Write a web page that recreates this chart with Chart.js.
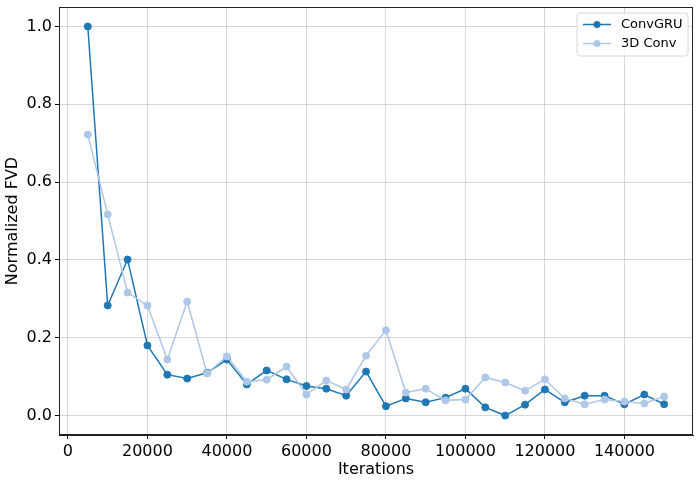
<!DOCTYPE html>
<html>
<head>
<meta charset="utf-8">
<script src="https://cdn.jsdelivr.net/npm/chart.js@4.4.1/dist/chart.umd.min.js"></script>
<style>
  html, body { margin: 0; padding: 0; background: #fff; }
</style>
</head>
<body>
<canvas id="fvdChart" width="699" height="483"></canvas>
<script>
// iterations on the x axis
var iterations = [5000, 10000, 15000, 20000, 25000, 30000, 35000, 40000, 45000, 50000,
  55000, 60000, 65000, 70000, 75000, 80000, 85000, 90000, 95000, 100000,
  105000, 110000, 115000, 120000, 125000, 130000, 135000, 140000, 145000, 150000];

var convGruFvd = [1.0, 0.283, 0.401, 0.18, 0.105, 0.095, 0.11, 0.144, 0.08, 0.116,
  0.093, 0.076, 0.069, 0.051, 0.113, 0.024, 0.044, 0.034, 0.046, 0.069,
  0.021, 0.0, 0.028, 0.067, 0.034, 0.051, 0.051, 0.029, 0.054, 0.029];

var conv3dFvd = [0.722, 0.517, 0.316, 0.283, 0.144, 0.293, 0.108, 0.152, 0.087, 0.092,
  0.126, 0.054, 0.09, 0.067, 0.154, 0.219, 0.059, 0.069, 0.039, 0.041,
  0.098, 0.085, 0.064, 0.093, 0.044, 0.029, 0.041, 0.036, 0.031, 0.049];

var xTicks = [0, 20000, 40000, 60000, 80000, 100000, 120000, 140000];
var yTicks = [0.0, 0.2, 0.4, 0.6, 0.8, 1.0];

var seriesNames = ["ConvGRU", "3D Conv"];
var seriesColors = ["#1f77b4", "#aec7e8"];

function toPoints(values) {
  return values.map(function (v, i) { return { x: iterations[i], y: v }; });
}

var fontFamily = "'DejaVu Sans', sans-serif";
var gridColor = "rgba(176,176,176,0.5)";

// black frame round the plot area, like matplotlib spines
var frame = {
  id: "frame",
  afterDatasetsDraw: function (chart) {
    var a = chart.chartArea;
    var ctx = chart.ctx;
    ctx.save();
    ctx.strokeStyle = "#222";
    ctx.lineWidth = 1;
    ctx.strokeRect(Math.round(a.left) + 0.5, Math.round(a.top) + 0.5,
      Math.round(a.right - a.left) - 1, Math.round(a.bottom - a.top) - 1);
    ctx.restore();
  }
};

// legend box in the top right corner, inside the axes
var legendBox = {
  id: "legendBox",
  afterDraw: function (chart) {
    var ctx = chart.ctx;
    var x = 577, y = 13, w = 111, h = 43, r = 3;
    ctx.save();
    ctx.beginPath();
    ctx.moveTo(x + r, y);
    ctx.arcTo(x + w, y, x + w, y + h, r);
    ctx.arcTo(x + w, y + h, x, y + h, r);
    ctx.arcTo(x, y + h, x, y, r);
    ctx.arcTo(x, y, x + w, y, r);
    ctx.closePath();
    ctx.fillStyle = "rgba(255,255,255,0.8)";
    ctx.fill();
    ctx.strokeStyle = "#d6d6d6";
    ctx.lineWidth = 1;
    ctx.stroke();

    chart.data.datasets.forEach(function (ds, i) {
      var ly = y + 11.5 + i * 19;
      ctx.strokeStyle = ds.borderColor;
      ctx.lineWidth = 1.5;
      ctx.beginPath();
      ctx.moveTo(x + 6, ly);
      ctx.lineTo(x + 34, ly);
      ctx.stroke();
      ctx.fillStyle = ds.borderColor;
      ctx.beginPath();
      ctx.arc(x + 20, ly, 3.5, 0, Math.PI * 2);
      ctx.fill();
      ctx.fillStyle = "#000";
      ctx.font = "13px " + fontFamily;
      ctx.textBaseline = "middle";
      ctx.fillText(ds.label, x + 44, ly + 0.5);
    });
    ctx.restore();
  }
};

new Chart("fvdChart", {
  type: "line",
  data: {
    datasets: [
      {
        label: seriesNames[0],
        data: toPoints(convGruFvd),
        borderColor: seriesColors[0],
        backgroundColor: seriesColors[0],
        pointBackgroundColor: seriesColors[0],
        borderWidth: 1.5,
        pointRadius: 3.5,
        pointBorderWidth: 1,
        pointHoverRadius: 3.5,
        order: 2,
      },
      {
        label: seriesNames[1],
        data: toPoints(conv3dFvd),
        borderColor: seriesColors[1],
        backgroundColor: seriesColors[1],
        pointBackgroundColor: seriesColors[1],
        borderWidth: 1.5,
        pointRadius: 3.5,
        pointBorderWidth: 1,
        pointHoverRadius: 3.5,
        order: 1,
      },
    ],
  },
  options: {
    responsive: false,
    animation: false,
    layout: { padding: { top: 7, right: 6, left: 0, bottom: 0 } },
    plugins: {
      legend: { display: false },
      tooltip: { enabled: false },
    },
    scales: {
      x: {
        type: "linear",
        min: -2250,
        max: 157250,
        afterBuildTicks: function (scale) {
          scale.ticks = xTicks.map(function (v) { return { value: v }; });
        },
        ticks: {
          maxRotation: 0,
          autoSkip: false,
          color: "#000",
          padding: 3,
          font: { family: fontFamily, size: 16 },
          callback: function (v) { return String(v); },
        },
        grid: { color: gridColor, tickColor: "#000", tickLength: 4 },
        border: { color: "#222", width: 1 },
        title: {
          display: true,
          text: "Iterations",
          color: "#000",
          font: { family: fontFamily, size: 16 },
          padding: { top: 0, bottom: 4 },
        },
        afterFit: function (scale) {
          scale.height = 48;
          scale.paddingLeft = 0;
          scale.paddingRight = 0;
        },
      },
      y: {
        min: -0.05,
        max: 1.05,
        afterBuildTicks: function (scale) {
          scale.ticks = yTicks.map(function (v) { return { value: v }; });
        },
        ticks: {
          autoSkip: false,
          color: "#000",
          padding: 3,
          font: { family: fontFamily, size: 16 },
          callback: function (v) { return Number(v).toFixed(1); },
        },
        grid: { color: gridColor, tickColor: "#000", tickLength: 4 },
        border: { color: "#222", width: 1 },
        title: {
          display: true,
          text: "Normalized FVD",
          color: "#000",
          font: { family: fontFamily, size: 16 },
          padding: { top: 3, bottom: 2 },
        },
        afterFit: function (scale) {
          scale.width = 59;
          scale.paddingTop = 0;
          scale.paddingBottom = 0;
        },
      },
    },
  },
  plugins: [frame, legendBox],
});
</script>
</body>
</html>
